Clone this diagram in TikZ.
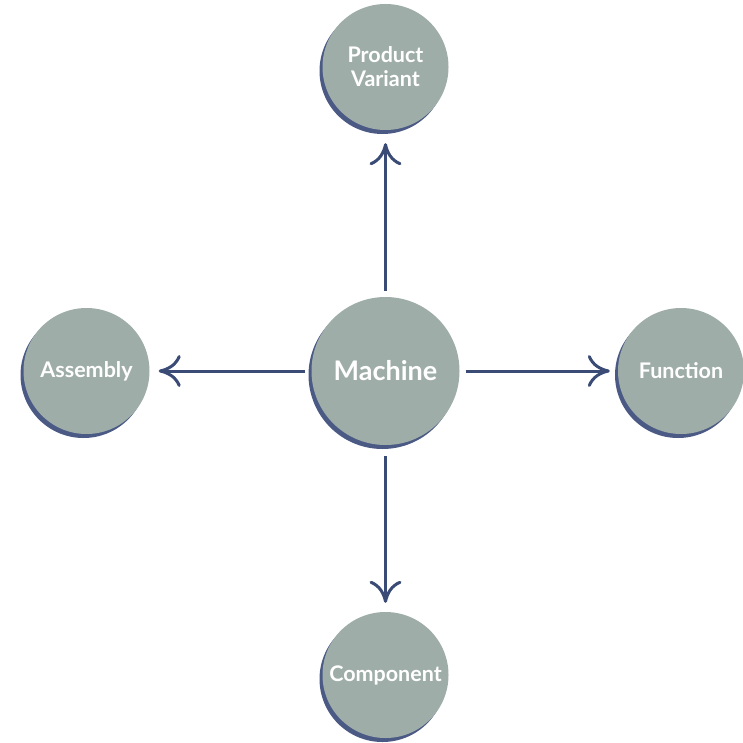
\documentclass[tikz,border=0pt]{standalone}
\usepackage{fontspec}
\setmainfont{Lato}
\usetikzlibrary{arrows.meta,shadows}
\definecolor{discfill}{HTML}{9FADA9}
\definecolor{discshadow}{HTML}{4B5A85}
\definecolor{linkblue}{HTML}{3A4B75}
\tikzset{
  disc/.style={circle, fill=discfill, inner sep=0pt, text=white,
    font=\bfseries\fontsize{21.5}{24}\selectfont, align=center,
    general shadow={fill=discshadow, shadow xshift=-3pt, shadow yshift=-4pt}},
  link/.style={draw=linkblue, line width=3pt,
    -{Computer Modern Rightarrow[length=22pt, width=32pt, line width=3pt]}}
}
\begin{document}
\begin{tikzpicture}[x=1pt, y=-1pt]
  \useasboundingbox (0,0) rectangle (742,743);
  % hub and its four satellites
  \node[disc, minimum size=148pt, font=\bfseries\fontsize{27}{30}\selectfont] (machine) at (385.5,371) {Machine};
  \node[disc, minimum size=126pt] (variant) at (385.5,67) {Product\\Variant};
  \node[disc, minimum size=126pt] (assembly) at (86.5,371) {Assembly};
  \node[disc, minimum size=126pt] (function) at (681,371) {Function};
  \node[disc, minimum size=126pt] (component) at (385.5,675) {Component};
  % connectors from the hub outward
  \draw[link, shorten <=6pt, shorten >=13pt] (machine.north) -- (variant.south);
  \draw[link, shorten <=6pt, shorten >=9pt] (machine.west) -- (assembly.east);
  \draw[link, shorten <=6pt, shorten >=8pt] (machine.east) -- (function.west);
  \draw[link, shorten <=11pt, shorten >=9pt] (machine.south) -- (component.north);
\end{tikzpicture}
\end{document}
